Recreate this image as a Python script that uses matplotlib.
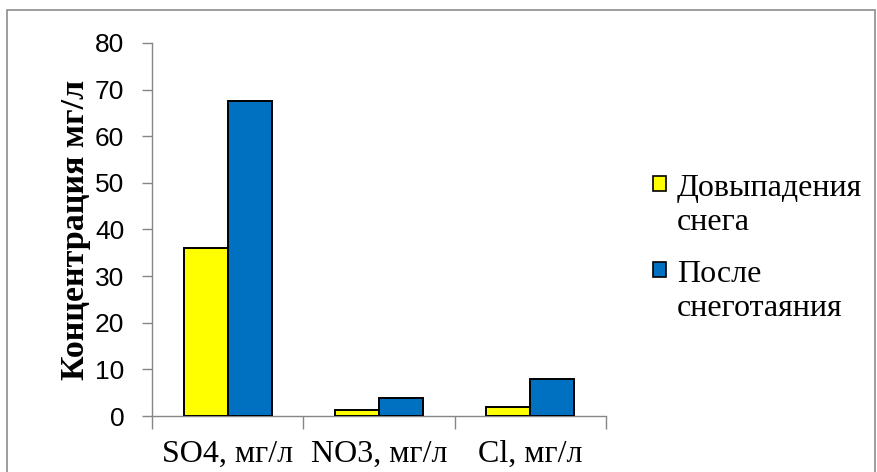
import matplotlib
matplotlib.use("Agg")
import matplotlib.pyplot as plt
from matplotlib.patches import Rectangle
import numpy as np

categories = ["SO4, мг/л", "NO3, мг/л", "Cl, мг/л"]
series_names = ["Довыпадения\nснега", "После\nснеготаяния"]
before_snow = [36.0, 1.2, 2.0]
after_melt = [67.6, 3.8, 8.0]
series_colors = ["#FFFF00", "#0070C0"]
y_ticks = [0, 10, 20, 30, 40, 50, 60, 70, 80]
y_label = "Концентрация мг/л"

W, H = 877, 472
fig = plt.figure(figsize=(W / 100, H / 100), dpi=100)
ax = fig.add_axes([152 / W, 1 - 416 / H, (606 - 152) / W, (416 - 43) / H])

axis_grey = "#868686"
x = np.arange(len(categories))
bw = 0.29
for vals, off, col in zip([before_snow, after_melt], [-bw / 2, bw / 2], series_colors):
    ax.bar(x + off, vals, width=bw, color=col, edgecolor="black", linewidth=1.4, zorder=3)

ax.set_xlim(-0.5, len(categories) - 0.5)
ax.set_ylim(0, 80)
ax.set_yticks(y_ticks)
ax.set_yticklabels([str(v) for v in y_ticks], fontfamily="Liberation Sans", fontsize=19)
ax.set_xticks(x)
ax.set_xticklabels(categories, fontfamily="Liberation Serif", fontsize=23)
ax.tick_params(axis="x", length=0, pad=17)
ax.tick_params(axis="y", length=7, color=axis_grey, width=1, pad=13)
# category separators on the x axis
ax.set_xticks(np.arange(-0.5, len(categories)), minor=True)
ax.tick_params(axis="x", which="minor", length=9, color=axis_grey, width=1)
for s in ["top", "right"]:
    ax.spines[s].set_visible(False)
for s in ["left", "bottom"]:
    ax.spines[s].set_color(axis_grey)
    ax.spines[s].set_linewidth(1)

ax.set_ylabel(y_label, fontfamily="Liberation Serif", fontweight="bold", fontsize=24.5, labelpad=3)

# legend
leg_rows = [176, 262]
for name, col, ytop in zip(series_names, series_colors, leg_rows):
    fig.patches.append(Rectangle((653 / W, 1 - (ytop + 15) / H), 13 / W, 15 / H,
                                 transform=fig.transFigure, facecolor=col,
                                 edgecolor="black", linewidth=1.2))
    fig.text(677 / W, 1 - (ytop - 2) / H, name, fontfamily="Liberation Serif", fontsize=23,
             va="top", ha="left", linespacing=1.25)

# chart frame
fig.patches.append(Rectangle((7 / W, -0.05), (875 - 7) / W, 1 - 10 / H + 0.05,
                             transform=fig.transFigure, fill=False, edgecolor="#8c8c8c", linewidth=1.2))

fig.savefig("out.png", dpi=100)
